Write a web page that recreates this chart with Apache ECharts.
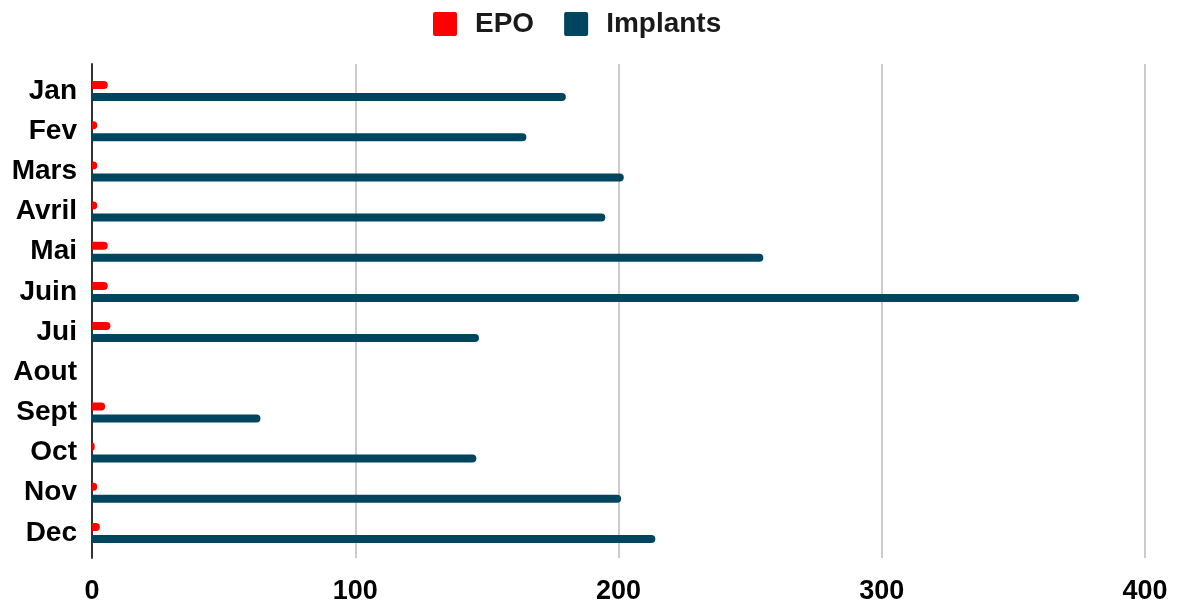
<!DOCTYPE html>
<html>
<head>
<meta charset="utf-8">
<script src="https://cdn.jsdelivr.net/npm/echarts@6/dist/echarts.min.js"></script>
<style>
  html, body { margin: 0; padding: 0; background: #fff; }
  #chart { width: 1179px; height: 605px; }
</style>
</head>
<body>
<div id="chart"></div>
<script>
// Monthly counts per product
const months = ['Jan', 'Fev', 'Mars', 'Avril', 'Mai', 'Juin', 'Jui', 'Aout', 'Sept', 'Oct', 'Nov', 'Dec'];
const epo = [6, 2, 2, 2, 6, 6, 7, 0, 5, 1, 2, 3];
const implants = [180, 165, 202, 195, 255, 375, 147, 0, 64, 146, 201, 214];
const xTicks = [0, 100, 200, 300, 400];

const FONT = '"Liberation Sans", Arial, sans-serif';
const X_MIN = xTicks[0];
const X_MAX = xTicks[xTicks.length - 1];
// square legend swatch with slightly rounded corners
const SWATCH = 'path://M2,0H22A2,2 0 0 1 24,2V22A2,2 0 0 1 22,24H2A2,2 0 0 1 0,22V2A2,2 0 0 1 2,0Z';

const chart = echarts.init(document.getElementById('chart'));
chart.setOption({
  animation: false,
  legend: {
    top: 5,
    left: 428,
    itemWidth: 24,
    itemHeight: 24,
    itemGap: 30,
    icon: SWATCH,
    textStyle: {
      fontFamily: FONT,
      fontWeight: 'bold',
      fontSize: 28,
      color: '#1a1a1a',
      padding: [0, 0, 0, 13]
    },
    data: ['EPO', 'Implants']
  },
  // grid 0: frame (gridlines, x labels, y axis line), slightly taller than the bar area
  // grid 1: the month bands holding the bars
  grid: [
    { left: 92, right: 34, top: 64, bottom: 46 },
    { left: 92, right: 34, top: 71, bottom: 52 }
  ],
  xAxis: [
    {
      gridIndex: 0,
      type: 'value',
      min: X_MIN,
      max: X_MAX,
      interval: 100,
      axisLine: { show: false },
      axisTick: { show: false },
      splitLine: {
        show: true,
        lineStyle: { color: '#cccccc', width: 2 }
      },
      axisLabel: {
        fontFamily: FONT,
        fontWeight: 'bold',
        fontSize: 27,
        color: '#000',
        margin: 20
      }
    },
    {
      gridIndex: 1,
      type: 'value',
      min: X_MIN,
      max: X_MAX,
      interval: 100,
      show: false
    }
  ],
  yAxis: [
    {
      gridIndex: 0,
      type: 'value',
      min: 0,
      max: 1,
      axisLine: { show: true, lineStyle: { color: '#333', width: 2 } },
      axisTick: { show: false },
      axisLabel: { show: false },
      splitLine: { show: false }
    },
    {
      gridIndex: 1,
      type: 'category',
      inverse: true,
      data: months,
      axisLine: { show: false },
      axisTick: { show: false },
      axisLabel: {
        fontFamily: FONT,
        fontWeight: 'bold',
        fontSize: 28,
        color: '#000',
        margin: 15,
        padding: [3, 0, 0, 0]
      }
    }
  ],
  series: [
    {
      name: 'EPO',
      type: 'bar',
      xAxisIndex: 1,
      yAxisIndex: 1,
      data: epo,
      barWidth: 8,
      barGap: '50%',
      itemStyle: { color: '#ff0000', borderRadius: [0, 4, 4, 0] }
    },
    {
      name: 'Implants',
      type: 'bar',
      xAxisIndex: 1,
      yAxisIndex: 1,
      data: implants,
      barWidth: 8,
      itemStyle: { color: '#00455f', borderRadius: [0, 4, 4, 0] }
    }
  ]
});
</script>
</body>
</html>
